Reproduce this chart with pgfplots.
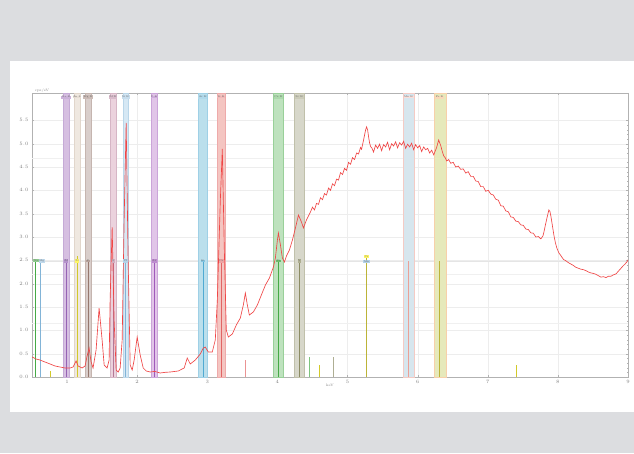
\documentclass[border=0pt]{standalone}
\usepackage{pgfplots}
\pgfplotsset{compat=1.18}
\definecolor{bgg}{RGB}{220,221,224}
\definecolor{spec}{RGB}{240,70,70}
\definecolor{bA}{RGB}{200,170,215}\definecolor{eA}{RGB}{150,100,180}
\definecolor{bB}{RGB}{234,224,214}\definecolor{eB}{RGB}{200,180,160}
\definecolor{bC}{RGB}{205,190,185}\definecolor{eC}{RGB}{150,120,110}
\definecolor{bD}{RGB}{228,195,210}\definecolor{eD}{RGB}{180,120,150}
\definecolor{bE}{RGB}{200,225,240}\definecolor{eE}{RGB}{130,180,215}
\definecolor{bF}{RGB}{215,178,225}\definecolor{eF}{RGB}{160,90,185}
\definecolor{bG}{RGB}{165,212,230}\definecolor{eG}{RGB}{80,170,210}
\definecolor{bH}{RGB}{240,178,172}\definecolor{eH}{RGB}{225,100,100}
\definecolor{bI}{RGB}{168,216,168}\definecolor{eI}{RGB}{70,170,70}
\definecolor{bJ}{RGB}{202,202,184}\definecolor{eJ}{RGB}{140,140,100}
\definecolor{bK}{RGB}{202,222,232}\definecolor{eK}{RGB}{235,160,150}
\definecolor{bL}{RGB}{222,226,165}\definecolor{eL}{RGB}{240,170,100}
\newcommand{\band}[4]{\addplot[fill=#1!75,draw=#2!55,line width=0.35pt] coordinates {(#3,0) (#3,6.086) (#4,6.086) (#4,0)} --cycle;}
\newcommand{\vl}[4]{\addplot[#1,line width=#4] coordinates {(#2,0) (#2,#3)};}
\newcommand{\ttag}[3]{\node[fill=#1,inner sep=0.6pt,font=\fontsize{2.6}{3}\selectfont,text=black!60] at (axis cs:#2,6.0) {#3};}
\newcommand{\mtag}[3]{\node[fill=#1,inner sep=0.6pt,font=\fontsize{2.6}{3}\selectfont,text=black!60] at (axis cs:#2,2.486) {#3};}
\begin{document}
\begin{tikzpicture}[x=1pt,y=1pt]
\fill[bgg] (0,0) rectangle (634,453);
\fill[white] (10,41) rectangle (634,392);
\begin{axis}[
  at={(32pt,76pt)}, anchor=south west, scale only axis,
  width=596pt, height=284pt,
  xmin=0.5, xmax=9, ymin=0, ymax=6.086,
  xtick={1,...,9}, ytick={0,0.5,...,5.5},
  minor y tick num=4,
  tick label style={font=\fontsize{3.5}{4}\selectfont, text=gray},
  yticklabel style={/pgf/number format/fixed,/pgf/number format/precision=1,/pgf/number format/fixed zerofill},
  axis line style={gray!60, line width=0.4pt},
  tick style={gray!60, line width=0.3pt},
  major tick length=2pt, minor tick length=1pt,
  grid=major, major grid style={gray!14, line width=0.3pt},
  clip=true,
]
% faint reference lines
\addplot[gray!20, line width=0.3pt] coordinates {(0.5,2.486) (9,2.486)};
\addplot[gray!12, line width=0.3pt] coordinates {(0.5,1.15) (9,1.15)};
\addplot[gray!12, line width=0.3pt] coordinates {(0.5,2.2) (9,2.2)};
\addplot[gray!12, line width=0.3pt] coordinates {(0.5,4.7) (9,4.7)};
% bands
\band{bA}{eA}{0.943}{1.029}
\band{bB}{eB}{1.1}{1.186}
\band{bC}{eC}{1.257}{1.343}
\band{bD}{eD}{1.614}{1.7}
\band{bE}{eE}{1.8}{1.871}
\band{bF}{eF}{2.2}{2.286}
\band{bG}{eG}{2.871}{3.0}
\band{bH}{eH}{3.143}{3.257}
\band{bI}{eI}{3.943}{4.086}
\band{bJ}{eJ}{4.243}{4.386}
\band{bK}{eK}{5.8}{5.957}
\band{bL}{eL}{6.229}{6.4}
% thin marker lines
\vl{eI}{0.543}{2.486}{0.5pt}
\vl{eE}{0.614}{2.486}{0.4pt}
\vl{eA}{0.986}{2.486}{0.5pt}
\vl{yellow!80!black}{1.143}{2.6}{0.4pt}
\vl{eC}{1.3}{2.486}{0.5pt}
\vl{eD}{1.657}{2.486}{0.5pt}
\vl{eE}{1.836}{2.486}{0.5pt}
\vl{eF}{2.243}{2.486}{0.6pt}
\vl{eG}{2.936}{2.486}{0.5pt}
\vl{eH}{3.2}{2.486}{0.5pt}
\vl{eI}{4.014}{2.486}{0.6pt}
\vl{eJ}{4.314}{2.486}{0.5pt}
\vl{yellow!70!black}{5.271}{2.55}{0.6pt}
\vl{eK}{5.871}{2.486}{0.4pt}
\vl{yellow!70!black}{6.314}{2.486}{0.5pt}
\vl{eH!70}{3.543}{0.36}{0.5pt}
\vl{eI!70}{4.457}{0.43}{0.4pt}
\vl{eJ!70}{4.8}{0.43}{0.4pt}
\vl{yellow!80!black}{4.6}{0.25}{0.4pt}
\vl{yellow!80!black}{7.4}{0.26}{0.4pt}
\vl{yellow!80!black}{0.757}{0.12}{0.4pt}
% spectrum
\addplot[spec, line width=0.65pt] coordinates {
(0.5,0.429)(0.557,0.386)(0.614,0.364)(0.686,0.321)(0.757,0.279)(0.829,0.236)(0.9,0.214)(0.971,0.193)(1.043,0.193)(1.086,0.214)(1.129,0.343)(1.157,0.236)(1.214,0.193)(1.257,0.236)(1.286,0.45)(1.314,0.621)(1.343,0.321)(1.371,0.193)(1.414,0.579)(1.457,1.478)(1.5,0.793)(1.529,0.257)(1.571,0.193)(1.6,0.364)(1.614,1.65)(1.643,3.214)(1.671,1.221)(1.7,0.15)(1.729,0.107)(1.757,0.193)(1.786,0.793)(1.814,3.364)(1.843,5.443)(1.871,2.507)(1.9,0.257)(1.929,0.15)(1.957,0.364)(2.0,0.857)(2.043,0.471)(2.086,0.193)(2.129,0.129)(2.186,0.107)(2.25,0.12)(2.329,0.086)(2.4,0.1)(2.471,0.107)(2.586,0.129)(2.671,0.193)(2.714,0.407)(2.757,0.279)(2.829,0.364)(2.9,0.493)(2.943,0.621)(2.971,0.643)(3.014,0.536)(3.071,0.536)(3.114,0.793)(3.143,1.65)(3.186,3.793)(3.214,4.886)(3.243,2.721)(3.271,1.007)(3.3,0.857)(3.357,0.921)(3.414,1.114)(3.471,1.264)(3.514,1.543)(3.543,1.8)(3.571,1.543)(3.6,1.329)(3.657,1.393)(3.714,1.543)(3.771,1.757)(3.829,1.971)(3.886,2.121)(3.943,2.357)(3.971,2.55)(4.0,2.936)(4.014,3.086)(4.043,2.829)(4.071,2.55)(4.1,2.464)(4.129,2.593)(4.171,2.721)(4.214,2.936)(4.257,3.193)(4.3,3.471)(4.343,3.321)(4.371,3.193)(4.414,3.364)(4.471,3.536)
(4.5,3.64)(4.529,3.58)(4.557,3.72)(4.586,3.70)(4.614,3.84)(4.643,3.80)(4.671,3.93)(4.7,3.90)(4.729,4.05)(4.757,4.00)(4.786,4.14)(4.814,4.10)(4.843,4.24)(4.871,4.22)(4.9,4.38)(4.929,4.34)(4.957,4.47)(4.986,4.43)(5.014,4.60)(5.043,4.56)(5.071,4.70)(5.1,4.66)(5.129,4.80)(5.157,4.78)(5.186,4.92)(5.2,4.88)(5.229,5.08)(5.257,5.29)(5.271,5.36)(5.286,5.30)(5.3,5.15)(5.314,5.02)(5.329,4.94)(5.35,4.90)(5.371,4.82)(5.4,4.97)(5.429,4.90)(5.457,4.99)(5.486,4.85)(5.514,4.98)(5.543,4.93)(5.571,5.03)(5.6,4.87)(5.629,5.00)(5.657,4.95)(5.686,5.04)(5.714,4.91)(5.743,5.02)(5.771,4.97)(5.8,5.05)(5.829,4.90)(5.857,4.99)(5.886,4.93)(5.914,5.01)(5.943,4.87)(5.971,4.98)(6.0,4.91)(6.029,4.96)(6.057,4.83)(6.086,4.93)(6.114,4.87)(6.143,4.90)(6.171,4.80)(6.2,4.86)(6.229,4.76)(6.25,4.84)(6.271,4.92)(6.3,5.08)(6.314,5.02)(6.329,4.96)(6.35,4.84)(6.371,4.74)(6.393,4.70)(6.414,4.63)(6.443,4.66)(6.471,4.58)(6.507,4.60)(6.543,4.50)(6.579,4.52)(6.614,4.45)(6.65,4.46)(6.686,4.37)(6.721,4.40)(6.757,4.30)(6.793,4.30)(6.829,4.20)(6.864,4.19)(6.9,4.08)(6.936,4.08)(6.971,3.98)(7.007,4.00)(7.043,3.92)(7.079,3.90)(7.114,3.81)(7.15,3.79)(7.186,3.67)(7.221,3.66)(7.257,3.56)(7.293,3.54)(7.329,3.43)(7.364,3.42)(7.4,3.34)(7.436,3.33)(7.471,3.26)(7.507,3.25)(7.543,3.17)(7.579,3.16)(7.614,3.09)(7.65,3.08)(7.686,3.00)(7.721,3.01)(7.757,2.96)(7.786,3.02)(7.8,3.10)(7.821,3.25)(7.843,3.40)(7.871,3.58)(7.886,3.55)(7.9,3.45)(7.921,3.25)(7.943,3.04)(7.964,2.88)(7.986,2.76)(8.014,2.66)(8.043,2.60)(8.079,2.52)(8.114,2.49)(8.15,2.45)(8.186,2.42)(8.221,2.39)(8.257,2.35)(8.293,2.33)(8.329,2.31)(8.364,2.30)(8.4,2.28)(8.436,2.25)(8.471,2.23)(8.507,2.22)(8.543,2.20)(8.579,2.17)(8.614,2.14)(8.65,2.15)(8.686,2.13)(8.721,2.16)(8.757,2.16)(8.793,2.19)(8.829,2.21)(8.864,2.27)(8.9,2.33)(8.929,2.38)(8.957,2.42)(8.986,2.47)(9.0,2.51)
};
% tags
\ttag{eA!50}{0.986}{Na K}
\ttag{eB!45}{1.143}{Zn L}
\ttag{eC!50}{1.3}{Mg K}
\ttag{eD!50}{1.657}{Al K}
\ttag{eE!45}{1.836}{Si K}
\ttag{eF!50}{2.243}{P K}
\ttag{eG!45}{2.936}{Ar K}
\ttag{eH!45}{3.2}{K K}
\ttag{eI!45}{4.014}{Ca K}
\ttag{eJ!45}{4.314}{Sc K}
\ttag{eK!35}{5.871}{Mn K}
\ttag{eL!45}{6.314}{Fe K}
\mtag{eI!60}{0.56}{Na}
\mtag{eE!50}{0.64}{Mg}
\mtag{eA!70}{0.986}{Al}
\mtag{yellow!60}{1.143}{Si}
\mtag{eC!70}{1.3}{P}
\mtag{eD!60}{1.657}{S}
\mtag{eE!60}{1.836}{Cl}
\mtag{eF!70}{2.243}{Ar}
\mtag{eG!70}{2.936}{K}
\mtag{eH!60}{3.2}{Ca}
\mtag{eI!80}{4.014}{Ti}
\mtag{eJ!70}{4.314}{V}
\node[fill=yellow!60,inner sep=0.6pt,font=\fontsize{2.6}{3}\selectfont,text=black!60] at (axis cs:5.271,2.58) {Cr};
\node[fill=eE!60,inner sep=0.6pt,font=\fontsize{2.6}{3}\selectfont,text=black!60] at (axis cs:5.271,2.47) {Mn};
\end{axis}
\node[font=\fontsize{3.5}{4}\selectfont, text=gray] at (42,362) {cps/eV};
\node[font=\fontsize{3.5}{4}\selectfont, text=gray] at (330,68) {keV};
\end{tikzpicture}
\end{document}
